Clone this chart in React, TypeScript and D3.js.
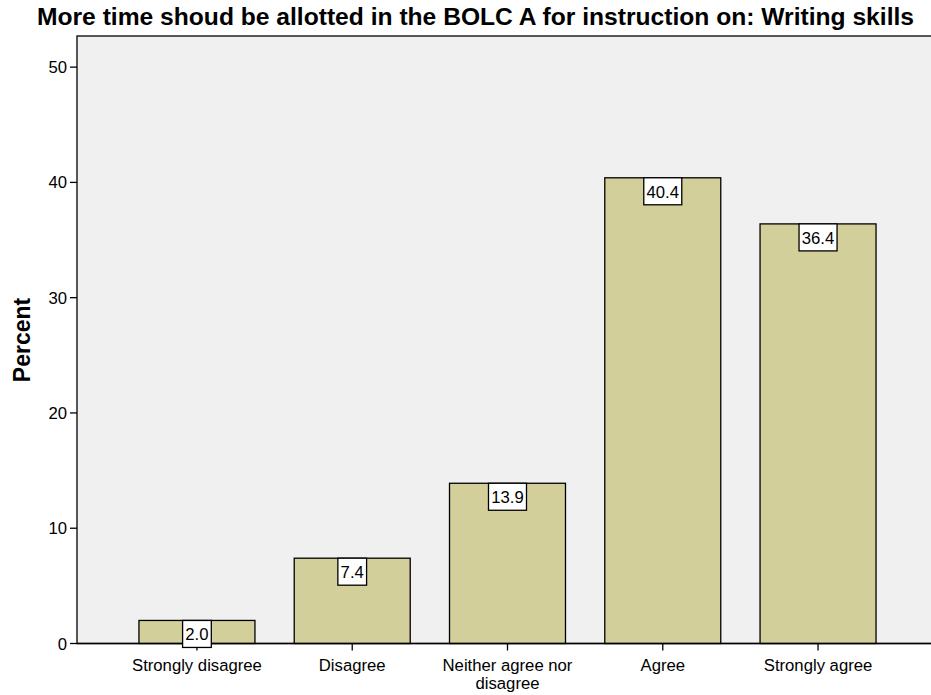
import React from "react";
import * as d3 from "d3";

const categories = ["Strongly disagree", "Disagree", "Neither agree nor disagree", "Agree", "Strongly agree"];
const labelLines = [["Strongly disagree"], ["Disagree"], ["Neither agree nor", "disagree"], ["Agree"], ["Strongly agree"]];
const values = [2.0, 7.4, 13.9, 40.4, 36.4];
const yTicks = [0, 10, 20, 30, 40, 50];
const title = "More time shoud be allotted in the BOLC A for instruction on: Writing skills";

const W = 931, H = 695;
const left = 77, right = 938, top = 36, bottom = 643.5;
const font = "'Liberation Sans', Arial, sans-serif";
const fs = 16.7;

export default function App() {
  const x = d3.scaleBand<string>().domain(categories).range([left, right]).paddingInner(0.253).paddingOuter(0.399);
  const y = d3.scaleLinear().domain([0, 52.7]).range([bottom, top]);
  const textW = (s: string) => s.split("").reduce((a, ch) => a + (ch === "." ? 0.278 : 0.556), 0) * fs;
  return (
    <svg width={W} height={H} style={{ position: "absolute", left: 0, top: 0, background: "#fff" }}>
      <rect x={left} y={top} width={W - left + 5} height={bottom - top} fill="#f0f0f0" stroke="#000" strokeWidth={1.3} />
      <text x={475.5} y={25} textAnchor="middle" fontFamily={font} fontWeight="bold" fontSize={23} textLength={877} lengthAdjust="spacingAndGlyphs" fill="#000">{title}</text>
      {values.map((v, i) => {
        const c = categories[i];
        const bx = x(c)!;
        return (
          <rect key={c} x={bx} y={y(v)} width={x.bandwidth()} height={bottom - y(v)} fill="#d3cf9a" stroke="#000" strokeWidth={1.3} />
        );
      })}
      <line x1={left} x2={W} y1={bottom} y2={bottom} stroke="#000" strokeWidth={1.3} />
      {yTicks.map(t => (
        <g key={t}>
          <line x1={left - 7} x2={left} y1={y(t)} y2={y(t)} stroke="#000" strokeWidth={1.3} />
          <text x={left - 10} y={y(t) + 6} textAnchor="end" fontFamily={font} fontSize={fs} fill="#000">{t}</text>
        </g>
      ))}
      {categories.map((c, i) => {
        const cx = x(c)! + x.bandwidth() / 2;
        return (
          <g key={c}>
            <line x1={cx} x2={cx} y1={bottom} y2={bottom + 7} stroke="#000" strokeWidth={1.3} />
            {labelLines[i].map((l, j) => (
              <text key={j} x={cx} y={671 + j * 18} textAnchor="middle" fontFamily={font} fontSize={fs} fill="#000">{l}</text>
            ))}
          </g>
        );
      })}
      {values.map((v, i) => {
        const c = categories[i];
        const cx = x(c)! + x.bandwidth() / 2;
        const label = v.toFixed(1);
        const bw = textW(label) + 5.5;
        return (
          <g key={c + "l"}>
            <rect x={cx - bw / 2} y={y(v)} width={bw} height={27} fill="#fff" stroke="#000" strokeWidth={1.3} />
            <text x={cx} y={y(v) + 20} textAnchor="middle" fontFamily={font} fontSize={fs} fill="#000">{label}</text>
          </g>
        );
      })}
      <text transform={`translate(30,340) rotate(-90)`} textAnchor="middle" fontFamily={font} fontWeight="bold" fontSize={23} fill="#000">Percent</text>
    </svg>
  );
}
